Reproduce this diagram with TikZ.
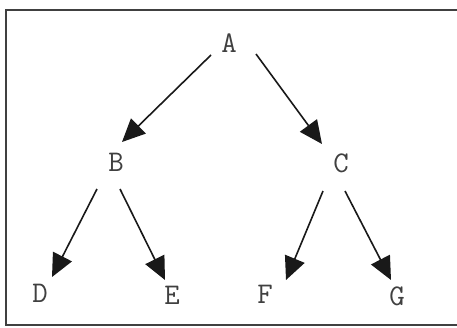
\documentclass[tikz,border=0pt]{standalone}
\usepackage{fontspec}
\usetikzlibrary{arrows.meta}
\begin{document}
\begin{tikzpicture}[x=1pt,y=-1pt,
  lbl/.style={inner sep=0pt,font=\ttfamily\fontsize{30}{30}\selectfont,text=black!75},
  edge/.style={line width=1.6pt,draw=black!90,-{Triangle[length=23pt,width=21pt]}}]
\useasboundingbox (0,0) rectangle (457,327);
\fill[white] (0,0) rectangle (457,327);
\draw[line width=2pt,draw=black!75] (460,10) -- (6,10) -- (6,325) -- (460,325);
\node[lbl] (A) at (229,43) {A};
\node[lbl] (B) at (116,162) {B};
\node[lbl] (C) at (341,163) {C};
\node[lbl] (D) at (40,293) {D};
\node[lbl] (E) at (172,295) {E};
\node[lbl] (F) at (265,294) {F};
\node[lbl] (G) at (397,296) {G};
\draw[edge] ([shift={(-18,12)}]A.center) -- ([shift={(6,-20)}]B.center);
\draw[edge] ([shift={(27,11)}]A.center) -- ([shift={(-19,-19)}]C.center);
\draw[edge] ([shift={(-19,27)}]B.center) -- ([shift={(12,-16)}]D.center);
\draw[edge] ([shift={(4,27)}]B.center) -- ([shift={(-7,-15)}]E.center);
\draw[edge] ([shift={(-18,28)}]C.center) -- ([shift={(21,-14)}]F.center);
\draw[edge] ([shift={(4,28)}]C.center) -- ([shift={(-6,-16)}]G.center);
\end{tikzpicture}
\end{document}
